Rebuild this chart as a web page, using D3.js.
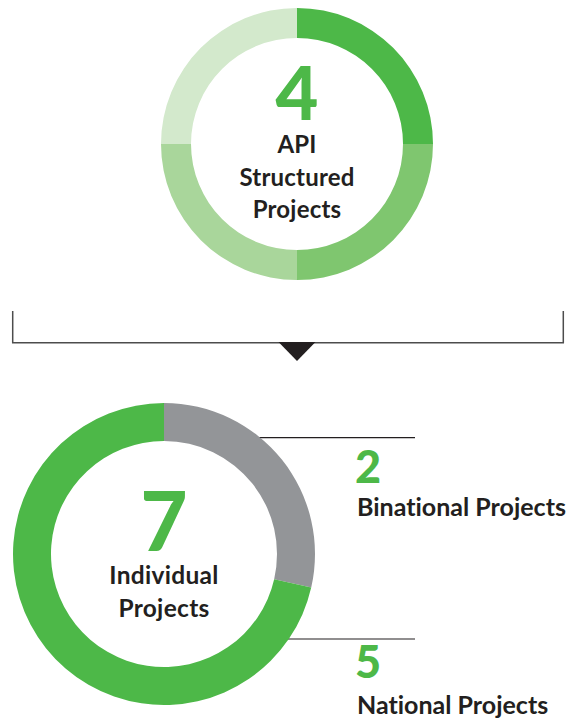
<!DOCTYPE html>
<html>
<head>
<meta charset="utf-8">
<script src="https://cdn.jsdelivr.net/npm/d3@7"></script>
<style>
  body { margin: 0; background: #ffffff; }
  svg {
    display: block;
    font-family: "Lato", "Open Sans", sans-serif;
    font-variant-ligatures: none;
    font-feature-settings: "liga" 0, "dlig" 0;
  }
</style>
</head>
<body>
<div id="chart"></div>
<script>
// Top donut: the four API structured projects
const apiProjects = ["API project 1", "API project 2", "API project 3", "API project 4"];
const apiValues = [1, 1, 1, 1];
const apiTitle = ["API", "Structured", "Projects"];

// Bottom donut: individual projects split by type
const individualTypes = ["Binational Projects", "National Projects"];
const individualValues = [2, 5];
const individualTitle = ["Individual", "Projects"];

const GREEN = "#4db848";
const GREY = "#939598";
const TEXT_COLOR = "#231f20";
const LINE_COLOR = "#4d4d4d";
const API_COLORS = ["#4db848", "#7fc66f", "#a9d69b", "#d3e9cc"];

const width = 583;
const height = 721;

const svg = d3
  .select("#chart")
  .append("svg")
  .attr("width", width)
  .attr("height", height);

const pie = d3.pie().sort(null).value((d) => d);

/**
 * Draw the top donut
 */
const drawApiDonut = () => {
  const g = svg.append("g").attr("transform", "translate(297, 144)");

  const arc = d3.arc().innerRadius(106).outerRadius(136);
  const color = d3.scaleOrdinal().domain(apiProjects).range(API_COLORS);

  g.selectAll("path")
    .data(pie(apiValues))
    .join("path")
    .attr("d", arc)
    .attr("fill", (d, i) => color(apiProjects[i]));

  // Big number = total of projects
  g.append("text")
    .text(d3.sum(apiValues))
    .attr("text-anchor", "middle")
    .attr("y", -24)
    .attr("fill", GREEN)
    .attr("font-size", 74)
    .attr("font-weight", 900);

  g.selectAll(".label")
    .data(apiTitle)
    .join("text")
    .attr("class", "label")
    .text((d) => d)
    .attr("text-anchor", "middle")
    .attr("y", (d, i) => 9 + i * 32.5)
    .attr("fill", TEXT_COLOR)
    .attr("font-size", 24)
    .attr("letter-spacing", 0.2)
    .attr("font-weight", 700);
};

/**
 * Draw the bracket and the arrow between both donuts
 */
const drawBracket = () => {
  svg.append("path")
    .attr("d", "M12.7,311 V342.7 H563.3 V311")
    .attr("fill", "none")
    .attr("stroke", LINE_COLOR)
    .attr("stroke-width", 1.5);

  svg.append("path")
    .attr("d", "M278.5,342 L315.5,342 L297,361 Z")
    .attr("fill", TEXT_COLOR);
};

/**
 * Draw the bottom donut with its callouts
 */
const drawIndividualDonut = () => {
  const cx = 164;
  const cy = 554;
  const inner = 113;
  const outer = 151;
  const g = svg.append("g").attr("transform", `translate(${cx}, ${cy})`);

  const arcs = pie(individualValues);
  const arc = d3.arc().innerRadius(inner).outerRadius(outer);
  const color = d3.scaleOrdinal().domain(individualTypes).range([GREY, GREEN]);

  // Callout rows: leader line height, then number and label offsets below it
  const calloutY = [-116.3, 85];
  const valueDy = [45, 38.5];
  const labelDy = [78.5, 74.5];
  const labelX = 357 - cx;

  // Leader lines start under the ring, never inside the hole
  const lineStart = (y) =>
    Math.abs(y) < inner ? Math.sqrt(inner * inner - y * y) + 4 : 0;

  g.selectAll(".leader")
    .data(arcs)
    .join("line")
    .attr("class", "leader")
    .attr("x1", (d, i) => lineStart(calloutY[i]))
    .attr("x2", 415 - cx)
    .attr("y1", (d, i) => calloutY[i])
    .attr("y2", (d, i) => calloutY[i])
    .attr("stroke", TEXT_COLOR)
    .attr("stroke-width", 1.2);

  g.selectAll("path")
    .data(arcs)
    .join("path")
    .attr("d", arc)
    .attr("fill", (d, i) => color(individualTypes[i]));

  g.append("text")
    .text(d3.sum(individualValues))
    .attr("text-anchor", "middle")
    .attr("y", -3)
    .attr("fill", GREEN)
    .attr("font-size", 81)
    .attr("font-weight", 900);

  g.selectAll(".label")
    .data(individualTitle)
    .join("text")
    .attr("class", "label")
    .text((d) => d)
    .attr("text-anchor", "middle")
    .attr("y", (d, i) => 29.5 + i * 33.3)
    .attr("fill", TEXT_COLOR)
    .attr("font-size", 24.5)
    .attr("letter-spacing", 0.3)
    .attr("font-weight", 700);

  // Value + type label next to each leader line
  const callouts = g.selectAll(".callout")
    .data(arcs)
    .join("g")
    .attr("class", "callout")
    .attr("transform", (d, i) => `translate(${labelX}, ${calloutY[i]})`);

  callouts.append("text")
    .text((d) => d.data)
    .attr("x", -2)
    .attr("y", (d, i) => valueDy[i])
    .attr("fill", GREEN)
    .attr("font-size", 45)
    .attr("font-weight", 900);

  callouts.append("text")
    .text((d, i) => individualTypes[i])
    .attr("y", (d, i) => labelDy[i])
    .attr("fill", TEXT_COLOR)
    .attr("font-size", 25)
    .attr("font-weight", 700);
};

drawApiDonut();
drawBracket();
drawIndividualDonut();
</script>
</body>
</html>
